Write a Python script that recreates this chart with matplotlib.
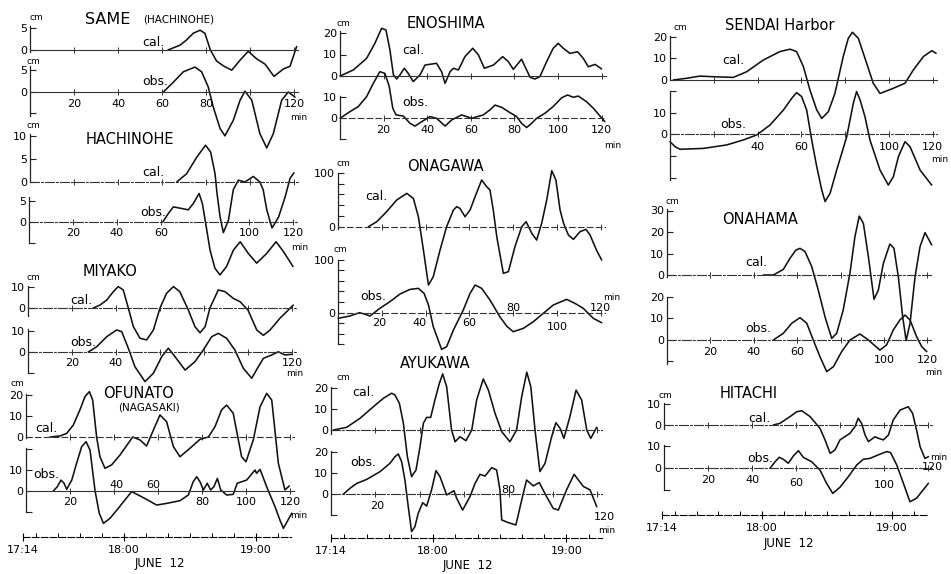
import matplotlib
matplotlib.use('Agg')
import matplotlib.pyplot as plt

plt.rcParams['font.family'] = ['DejaVu Sans']

# ---------------- data (minutes after 17:14, water level in cm) ----------------
same_cal_t = [62.7, 68.2, 71.2, 74.2, 77.3, 79.5, 82.0, 84.8, 87.9, 91.7, 95.5, 99.2, 103.0, 106.8, 110.9, 115.2, 118.2, 121.2]
same_cal_h = [0, 1.1, 2.3, 3.8, 4.5, 3.8, 0, -2.5, -3.6, -4.6, -2.3, -0.3, -2.0, -3.2, -6.0, -4.3, -3.7, 0.8]
same_obs_t = [60.6, 65.2, 69.7, 75.0, 78.0, 81.0, 83.3, 86.4, 88.6, 92.4, 95.5, 97.7, 100.8, 104.5, 107.6, 110.6, 114.4, 117.4, 120.5]
same_obs_h = [0, 2.3, 4.7, 5.8, 4.7, 1.2, -3.5, -8.5, -10.2, -6.6, -1.9, 0.2, -1.9, -9.7, -13.0, -9.7, -1.9, 0, -1.2]

hachi_cal_t = [66.7, 71.2, 75.8, 79.8, 82.1, 84.1, 85.0, 86.4, 87.9, 90.2, 92.4, 94.7, 97.7, 101.5, 104.5, 106.0, 107.6, 110.0, 113.0, 116.0, 118.2, 120.0]
hachi_cal_h = [0, 1.8, 5.4, 8.0, 6.5, 1.8, -2.4, -7.6, -11.0, -8.3, -1.7, 0.4, 0, 1.2, 0, -1.7, -6.0, -10.0, -7.6, -3.2, 0.8, 2.0]
hachi_obs_t = [60.8, 63.3, 65.6, 68.6, 72.4, 74.7, 77.3, 78.8, 80.3, 82.3, 84.5, 86.8, 89.8, 92.9, 96.0, 99.7, 103.5, 108.0, 112.3, 115.6, 120.0]
hachi_obs_h = [0, 2.0, 3.6, 3.3, 2.9, 4.4, 6.8, 4.4, -0.3, -6.7, -11.0, -12.6, -10.6, -6.7, -4.7, -7.5, -9.8, -7.5, -4.7, -7.0, -10.6]

miyako_cal_t = [29.7, 32.7, 35.8, 38.8, 41.0, 43.3, 45.6, 47.9, 50.9, 53.9, 57.0, 60.0, 63.0, 66.1, 69.0, 72.9, 75.9, 78.2, 80.5, 82.7, 86.5, 89.5, 93.3, 96.4, 100.0, 104.0, 107.0, 110.0, 114.5, 120.6]
miyako_cal_h = [0, 1.4, 3.8, 7.8, 10.2, 8.6, 0, -8.9, -14.4, -15.2, -10.5, 0, 7.0, 10.2, 7.8, -1.0, -8.9, -11.8, -8.9, 0, 8.6, 7.8, 4.6, 3.0, -1.0, -10.5, -13.0, -10.5, -4.9, 1.4]
miyako_obs_t = [27.4, 31.2, 35.8, 40.3, 42.6, 45.6, 48.6, 53.2, 57.0, 60.8, 63.8, 66.8, 71.4, 75.9, 79.7, 83.5, 86.5, 90.3, 94.0, 97.9, 101.7, 104.7, 107.0, 110.8, 113.8, 116.8, 119.8]
miyako_obs_h = [0, 2.5, 7.3, 10.5, 9.7, 1.8, -7.0, -14.1, -10.1, -2.2, 1.8, -2.2, -8.6, -4.6, 1.0, 7.3, 8.9, 6.5, 1.0, -7.8, -12.5, -7.0, -3.0, -1.4, 0.1, -1.4, -1.1]

ofunato_cal_t = [10.9, 15.5, 18.5, 21.5, 24.5, 26.8, 28.8, 30.3, 32.1, 33.6, 35.9, 38.9, 42.7, 48.5, 51.8, 54.8, 57.9, 60.9, 63.9, 67.0, 70.0, 74.5, 79.1, 82.9, 85.9, 88.9, 91.2, 94.2, 98.0, 100.0, 103.3, 106.4, 109.4, 111.7, 114.7, 117.7, 119.7]
ofunato_cal_h = [0, 0.5, 1.7, 5.7, 12.9, 19.2, 21.6, 17.6, 0, -9.4, -14.9, -13.3, -8.6, 0, -1.4, -4.3, 3.3, 10.5, 7.3, -4.6, -9.4, -5.4, -1.1, 0, 4.9, 12.9, 15.2, 11.3, -9.4, -11.8, -1.4, 14.4, 20.8, 17.6, -12.5, -25.2, -23.3]
ofunato_obs_t = [12.4, 14.2, 15.9, 17.3, 18.5, 20.8, 23.0, 25.3, 27.3, 29.1, 31.4, 33.3, 35.2, 38.2, 41.9, 48.0, 51.0, 54.8, 59.4, 63.9, 70.0, 73.8, 76.0, 77.6, 79.1, 80.6, 82.4, 83.9, 85.4, 87.0, 88.5, 91.2, 94.2, 96.0, 100.3, 104.1, 104.8, 106.4, 109.4, 113.2, 115.4, 117.0, 120.8]
ofunato_obs_h = [0, 2.0, 5.2, 3.7, 0.8, 5.2, 13.2, 21.1, 23.5, 19.5, 0, -10.6, -15.4, -13.0, -8.3, -0.3, -1.9, -4.0, -6.7, -5.9, -4.6, -1.9, 4.4, 6.8, 4.4, 0.5, 3.7, 0.5, 2.0, 6.0, 0.5, -1.9, -1.6, 3.7, 5.2, 10.0, 8.4, 10.3, 2.0, -7.5, -13.8, -17.8, -10.6]

eno_cal_t = [0, 6.1, 12.2, 16.0, 19.1, 21.1, 22.9, 24.5, 26.0, 27.5, 29.5, 31.3, 33.6, 36.7, 39.0, 44.3, 46.6, 48.2, 50.5, 52.0, 54.3, 57.3, 60.9, 63.5, 66.2, 70.4, 74.6, 77.2, 79.5, 83.3, 84.9, 87.2, 89.4, 91.7, 94.8, 97.8, 100.1, 102.4, 105.5, 109.0, 111.6, 113.9, 117.0, 120.0]
eno_cal_h = [0, 2.8, 8.2, 15.2, 22.2, 21.4, 12.1, 0.5, -1.4, 0.5, 3.6, 1.2, -2.6, 0.5, 5.1, 5.9, 2.0, -3.4, 2.0, 3.6, 2.8, 9.0, 12.9, 9.8, 3.6, 5.1, 9.0, 6.7, 3.1, 7.8, 4.3, -0.6, -1.4, -0.3, 6.7, 12.9, 15.2, 12.9, 10.5, 11.3, 8.2, 4.3, 5.4, 3.3]
eno_obs_t = [0, 4.6, 8.4, 12.2, 15.3, 18.3, 20.6, 22.6, 24.2, 25.7, 29.0, 32.1, 34.4, 37.5, 41.3, 44.3, 48.2, 51.2, 55.8, 60.4, 65.7, 68.8, 71.1, 74.2, 77.2, 81.0, 83.3, 85.6, 87.9, 90.2, 94.0, 97.8, 101.7, 104.4, 107.0, 109.3, 113.1, 116.2, 121.5]
eno_obs_h = [0, 3.2, 5.6, 10.3, 16.7, 22.2, 21.4, 15.1, 4.8, 1.6, 1.1, -2.4, -3.7, -1.6, 0.8, 0, -3.7, -0.8, 1.6, 0, 1.6, 4.0, 6.3, 5.2, 3.2, 0.8, -2.4, -4.4, -2.4, 0, 2.4, 5.6, 9.8, 11.1, 10.0, 10.6, 7.9, 4.8, -1.6]

onag_cal_t = [13.9, 17.7, 22.2, 26.8, 31.4, 34.4, 36.7, 39.0, 41.3, 43.5, 46.6, 49.6, 52.7, 54.2, 55.7, 58.0, 60.3, 62.6, 65.6, 67.9, 69.4, 70.9, 72.5, 75.5, 77.8, 80.8, 83.9, 85.9, 88.5, 90.7, 93.0, 95.3, 97.6, 99.5, 101.4, 103.0, 105.2, 107.5, 110.5, 113.2, 115.1, 118.0, 120.4]
onag_cal_h = [0, 9.3, 27.8, 49.4, 61.7, 52.5, 18.5, -43.2, -108, -92.6, -43.2, 0, 30.9, 37, 34, 18.5, 30.9, 55.6, 86.5, 74, 68, 30.9, -18.5, -86.4, -83.3, -37, 0, 9.3, -12.3, -24.7, 6.2, 49.4, 103.7, 86.5, 30.9, 6.2, -15.4, -23.5, -9.3, -4.9, -15.4, -43.2, -61.7]
onag_obs_t = [0, 5.3, 9.8, 12.1, 14.6, 19.1, 23.7, 28.3, 32.9, 36.7, 39.3, 41.3, 43.5, 47.3, 49.6, 52.7, 57.2, 60.3, 62.6, 65.6, 69.4, 73.9, 77.0, 80.0, 84.6, 89.2, 93.7, 98.3, 104.4, 108.2, 112.0, 116.6, 120.4]
onag_obs_h = [-10.7, -6.3, 0, -2.5, -6.3, 8.2, 20.8, 35.2, 44, 45.9, 36.5, 14.5, -26.4, -69.2, -64.2, -32.7, 5, 36.5, 52.2, 45.9, 23.9, -7.5, -25.2, -35.8, -29.6, -17, -1.3, 14.5, 25.2, 17.6, 8.2, -10.7, -18.9]

ayu_cal_t = [1.1, 7.1, 13.1, 19.1, 23.6, 27.3, 28.8, 30.8, 32.6, 34.4, 36.3, 38.3, 40.1, 41.6, 43.1, 44.9, 46.8, 48.8, 50.3, 52.1, 54.3, 55.9, 58.1, 60.8, 63.4, 65.6, 68.6, 70.9, 73.9, 76.9, 80.6, 83.6, 85.9, 88.2, 90.0, 91.9, 94.1, 96.4, 99.4, 101.3, 103.2, 104.9, 107.6, 110.4, 112.9, 115.2, 117.0, 119.7]
ayu_cal_h = [0, 1.3, 5.6, 11.1, 15.1, 17.5, 16.7, 12.7, 3.2, -12.7, -22.2, -19.0, -7.9, 3.2, 6.0, 6.0, 14.3, 22.2, 26.7, 20.6, 0, -5.6, -3.2, -5.1, 0, 14.3, 24.3, 19.0, 7.9, -0.8, -5.6, 0, 15.9, 27.5, 20.6, 0, -19.8, -15.9, -3.2, 3.5, 0.8, -4.0, 6.3, 19.0, 14.3, 0, -4.0, 1.3]
ayu_obs_t = [5.5, 8.6, 11.6, 16.1, 22.1, 26.6, 28.8, 30.3, 31.8, 33.3, 34.8, 36.3, 37.8, 39.3, 41.3, 43.1, 45.3, 47.3, 49.1, 52.1, 55.4, 56.6, 59.3, 62.6, 64.9, 67.1, 69.4, 72.4, 74.6, 76.1, 76.9, 79.9, 83.3, 85.9, 88.1, 91.1, 93.8, 97.1, 100.1, 102.4, 106.1, 109.5, 113.7, 116.7, 119.7]
ayu_obs_h = [0, 2.9, 5.2, 7.1, 10.8, 14.8, 17.9, 19.2, 15.6, 6.8, -5.9, -17.8, -15.4, -9.0, -4.0, -5.6, 2.1, 11.3, 8.4, -0.3, 1.7, -1.9, -7.5, -1.1, 5.2, 9.5, 8.7, 12.7, 11.6, 2.1, -12.2, -13.5, -14.6, -2.7, 6.8, 4.0, 5.6, -1.1, -6.7, -7.5, 2.1, 9.5, 3.7, 2.1, -5.9]

sendai_cal_t = [1.5, 7.6, 13.7, 19.8, 28.9, 35.0, 42.6, 50.2, 54.8, 57.8, 60.9, 63.9, 67.0, 69.3, 72.3, 75.3, 79.1, 81.4, 83.3, 86.0, 89.8, 92.8, 95.9, 102.0, 107.3, 111.1, 115.7, 119.5, 121.5]
sendai_cal_h = [0, 0.8, 1.8, 1.5, 1.2, 3.8, 9.2, 13.1, 14.2, 13.1, 6.2, -4.6, -13.8, -17.7, -14.6, -6.2, 10.8, 19.2, 22.0, 19.2, 7.7, -1.5, -6.2, -3.8, -1.5, 4.6, 10.8, 13.5, 12.3]
sendai_obs_t = [0, 2.3, 4.6, 15.2, 25.9, 33.5, 39.6, 45.7, 51.8, 55.6, 57.8, 60.1, 62.4, 64.7, 67.0, 69.3, 70.8, 73.1, 76.1, 80.7, 83.7, 85.2, 86.8, 89.0, 91.3, 95.9, 99.7, 102.0, 104.3, 107.3, 109.6, 114.2, 119.5]
sendai_obs_h = [-3.4, -5.7, -6.9, -6.5, -4.9, -2.6, -0.3, 4.3, 11.2, 16.6, 19.2, 17.4, 11.2, -2.6, -14.9, -25.7, -31.0, -27.2, -16.5, -1.1, 14.3, 19.7, 15.8, 8.2, -2.6, -16.5, -23.4, -19.5, -10.3, -3.4, -5.7, -16.5, -23.4]

onah_cal_t = [44.4, 49.0, 53.6, 56.7, 59.4, 61.3, 63.6, 66.7, 69.7, 72.8, 75.9, 78.2, 81.2, 84.3, 86.6, 88.6, 90.5, 92.8, 95.4, 97.4, 99.7, 102.7, 104.6, 106.6, 108.6, 110.2, 112.0, 114.3, 116.6, 118.9, 122.0]
onah_cal_h = [0, 0, 2.6, 7.8, 11.6, 12.4, 10.9, 3.9, -7.0, -19.4, -29.5, -27.1, -16.3, 0.8, 17.8, 27.4, 24.0, 8.5, -11.3, -7.0, 5.4, 14.4, 12.4, -0.8, -19.4, -30.5, -22.5, -0.8, 13.2, 19.7, 14.0]
onah_obs_t = [49.0, 53.6, 57.5, 61.3, 64.4, 67.4, 70.5, 73.6, 76.7, 80.5, 84.3, 88.9, 92.8, 98.1, 101.2, 104.3, 107.3, 109.7, 112.0, 115.0, 117.4, 119.7]
onah_obs_h = [0, 3.1, 7.8, 10.4, 7.8, 0, -7.8, -14.7, -12.4, -5.4, 0, 2.8, 0, -4.7, -2.3, 4.7, 9.3, 11.6, 9.3, 1.6, -3.1, -5.4]

hit_cal_t = [49.7, 52.7, 57.3, 60.3, 62.6, 66.4, 70.9, 73.2, 75.5, 77.7, 80.0, 84.5, 86.8, 88.3, 89.8, 91.4, 92.9, 95.9, 97.4, 99.7, 102.0, 104.2, 107.3, 111.0, 113.0, 114.8, 116.4, 118.6, 120.2]
hit_cal_h = [0, 0.8, 4.0, 6.3, 6.8, 4.0, -1.6, -7.1, -13.5, -11.9, -7.1, -4.0, -0.8, 3.2, 0.8, -4.8, -7.9, -5.6, -6.3, -7.1, -4.8, 2.4, 7.1, 8.7, 5.6, -2.4, -10.3, -15.9, -15.1]
hit_obs_t = [48.2, 50.5, 52.4, 54.2, 56.5, 58.8, 61.1, 63.3, 67.1, 70.9, 73.9, 76.7, 80.0, 83.8, 87.6, 90.6, 93.6, 97.4, 101.2, 103.0, 105.8, 108.8, 111.8, 114.8, 120.2]
hit_obs_h = [0, 3.0, 5.0, 4.1, 2.3, 5.6, 8.0, 5.0, 3.0, -0.8, -6.8, -11.4, -8.6, -3.8, 1.5, 4.1, 4.5, 6.1, 7.6, 7.1, 1.5, -6.8, -15.2, -13.6, -6.8]

time_major = [0, 46, 106]
time_labels = ['17:14', '18:00', '19:00']
time_minor = [6, 16, 26, 36, 56, 66, 76, 86, 96, 116]

# ---------------- layout helpers ----------------
W, H = 951, 574
fig = plt.figure(figsize=(W / 100, H / 100), dpi=100)
fig.patch.set_facecolor('white')

SOLID = '-'
DD = (0, (8, 2, 1.5, 2))
DASH = (0, (5, 3))
XMAX = 125


def fx(x):
    return x / W


def fy(y):
    return 1 - y / H


def trace(t, h, x0, y0, sx, sy, yticks, ylabels, ybounds, zls,
          xlabels=(), minlab=None):
    lo = min(ybounds[0], min(h)) - 2
    hi = max(ybounds[1], max(h)) + 2
    rect = [fx(x0), fy(y0 - lo * sy), XMAX * sx / W, (hi - lo) * sy / H]
    ax = fig.add_axes(rect)
    ax.patch.set_alpha(0)
    ax.set_xlim(0, XMAX)
    ax.set_ylim(lo, hi)
    ax.plot(t, h, color='#111111', lw=1.15, clip_on=False,
            solid_joinstyle='round', solid_capstyle='round')
    for s in ('top', 'right'):
        ax.spines[s].set_visible(False)
    ax.spines['left'].set_bounds(*ybounds)
    ax.spines['left'].set_linewidth(0.9)
    ax.spines['left'].set_color('#222222')
    b = ax.spines['bottom']
    b.set_position(('data', 0))
    b.set_bounds(0, 122)
    b.set_linestyle(zls)
    b.set_linewidth(0.8)
    b.set_color('#333333')
    ax.set_yticks(yticks)
    ax.set_yticklabels(ylabels)
    ax.set_xticks([20, 40, 60, 80, 100, 120])
    ax.tick_params(axis='x', direction='inout', length=4, width=0.7,
                   color='#333333', labelbottom=False)
    ax.tick_params(axis='y', direction='in', length=4, width=0.8,
                   pad=2, labelsize=8, color='#222222')
    for m, lab, dy in xlabels:
        ax.annotate(lab, xy=(m, 0), xytext=(0, -dy * 0.72),
                    textcoords='offset points', ha='center', va='center',
                    fontsize=8, annotation_clip=False)
    if minlab is not None:
        m, dy = minlab
        ax.annotate('min', xy=(m, 0), xytext=(0, -dy * 0.72),
                    textcoords='offset points', ha='center', va='center',
                    fontsize=6.5, annotation_clip=False)
    return ax


def time_axis(x0, y, sx, end=122):
    ax = fig.add_axes([fx(x0), fy(y), XMAX * sx / W, 0.0005])
    ax.patch.set_alpha(0)
    ax.set_xlim(0, XMAX)
    ax.set_yticks([])
    for s in ('top', 'right', 'left'):
        ax.spines[s].set_visible(False)
    b = ax.spines['bottom']
    b.set_bounds(0, end)
    b.set_linestyle((0, (6, 2)))
    b.set_linewidth(0.8)
    ax.set_xticks(time_major)
    ax.set_xticklabels(time_labels)
    ax.set_xticks(time_minor, minor=True)
    ax.tick_params(axis='x', which='major', direction='inout', length=6,
                   width=0.8, labelsize=8, pad=3)
    ax.tick_params(axis='x', which='minor', direction='in', length=3, width=0.7)
    return ax


def label(txt, x, y, size=9, ha='left'):
    fig.text(fx(x), fy(y), txt, ha=ha, va='center', fontsize=size)


# ---------------- column 1 ----------------
trace(same_cal_t, same_cal_h, 30, 50, 2.2, 4.4, [0, 5], ['0', '5'], (-0.5, 5.5), SOLID)
trace(same_obs_t, same_obs_h, 30, 92, 2.2, 4.3, [-5, 0, 5], ['', '0', '5'], (-5.5, 6), SOLID,
      [(20, '20', 12), (40, '40', 12), (60, '60', 12), (80, '80', 12), (120, '120', 12)], (122, 26))
trace(hachi_cal_t, hachi_cal_h, 30, 182, 2.2, 4.6, [0, 5, 10], ['0', '5', '10'], (0, 10.5), DD)
trace(hachi_obs_t, hachi_obs_h, 29, 222, 2.2, 4.2, [-5, 0, 5], ['', '0', '5'], (-5, 6), DD,
      [(20, '20', 11), (40, '40', 11), (60, '60', 11), (100, '100', 11), (120, '120', 11)], (123, 25))
trace(miyako_cal_t, miyako_cal_h, 28, 308, 2.2, 2.1, [0, 10], ['0', '10'], (-4, 10.5), DD)
trace(miyako_obs_t, miyako_obs_h, 28, 352, 2.2, 2.1, [-10, 0, 10], ['', '0', '10'], (-10, 11), DD,
      [(20, '20', 11), (40, '40', 11), (120, '120', 11)], (121, 21))
trace(ofunato_cal_t, ofunato_cal_h, 26, 437, 2.2, 2.1, [0, 10, 20], ['0', '10', '20'], (-0.5, 20.5), DASH)
trace(ofunato_obs_t, ofunato_obs_h, 26, 491, 2.2, 2.1, [-10, 0, 10, 20], ['', '0', '10', ''], (-10, 20.5), SOLID,
      [(20, '20', 11), (41, '40', -6), (58, '60', -6), (80, '80', 11), (100, '100', 11), (120, '120', 11)], (124, 24))
time_axis(23, 537, 2.2)

# ---------------- column 2 ----------------
trace(eno_cal_t, eno_cal_h, 340, 76, 2.18, 2.15, [0, 10, 20], ['0', '10', '20'], (0, 21), SOLID)
trace(eno_obs_t, eno_obs_h, 340, 118.3, 2.18, 2.1, [-10, 0, 10], ['', '0', '10'], (-10, 10.5), DASH,
      [(20, '20', 12), (40, '40', 12), (60, '60', 12), (80, '80', 12), (100, '100', 12), (120, '120', 12)], (125, 27))
trace(onag_cal_t, onag_cal_h, 338, 226.7, 2.19, 0.54, [0, 20, 40, 60, 80, 100],
      ['0', '', '', '', '', '100'], (-5, 100), DASH)
trace(onag_obs_t, onag_obs_h, 338, 312.7, 2.19, 0.53, [-60, -40, -20, 0, 20, 40, 60, 80, 100],
      ['', '', '', '0', '', '', '', '', '100'], (-60, 100), DASH,
      [(19, '20', 10), (37, '40', 10), (60, '60', 10), (80, '80', -5), (100, '100', 14), (120, '120', -5)], (125, -15))
trace(ayu_cal_t, ayu_cal_h, 331, 430, 2.22, 2.1, [0, 10, 20], ['0', '10', '20'], (-2, 20.5), DD)
trace(ayu_obs_t, ayu_obs_h, 331, 494.3, 2.22, 2.1, [-10, 0, 10, 20], ['', '0', '10', '20'], (-10, 20.5), DD,
      [(21, '20', 12), (80, '80', -4), (123, '120', 23)], (124, 36))
time_axis(331, 538, 2.22)

# ---------------- column 3 ----------------
trace(sendai_cal_t, sendai_cal_h, 670, 80, 2.19, 2.17, [0, 10, 20], ['0', '10', '20'], (0, 20.5), SOLID)
trace(sendai_obs_t, sendai_obs_h, 670, 134.3, 2.19, 2.17, [-20, -10, 0, 10, 20],
      ['', '', '0', '10', ''], (-21, 20), DD,
      [(40, '40', 13), (60, '60', 13), (100, '100', 13), (120, '120', 13)], (123, 25))
trace(onah_cal_t, onah_cal_h, 667, 275, 2.17, 2.15, [0, 10, 20, 30], ['0', '10', '20', '30'], (-1, 30.5), DD)
trace(onah_obs_t, onah_obs_h, 667, 340, 2.17, 2.15, [-10, 0, 10, 20], ['', '0', '10', '20'], (-11, 20), DD,
      [(20, '20', 12), (40, '40', 12), (60, '60', 12), (100, '100', 20), (120, '120', 20)], (123, 33))
trace(hit_cal_t, hit_cal_h, 664, 425, 2.2, 2.1, [0, 10], ['0', '10'], (-2, 10.5), DD)
trace(hit_obs_t, hit_obs_h, 664, 468.3, 2.2, 2.2, [-10, 0, 10], ['', '0', '10'], (-10, 10.5), DD,
      [(20, '20', 12), (40, '40', 12), (60, '60', 15), (100, '100', 17), (122, '120', -1)], (125, -11))
time_axis(662, 515, 2.17)

# ---------------- texts ----------------
titles = [("SAME", 85, 19, 11.5), ("(HACHINOHE)", 143, 20, 7.5), ("HACHINOHE", 86, 140, 10.5),
          ("MIYAKO", 83, 272, 10.5), ("OFUNATO", 103, 393, 10.5), ("(NAGASAKI)", 118, 408, 7.5),
          ("ENOSHIMA", 407, 23, 10.5), ("ONAGAWA", 407, 167, 10.5), ("AYUKAWA", 400, 363, 10.5),
          ("SENDAI Harbor", 725, 25, 10.5), ("ONAHAMA", 722, 219, 10.5), ("HITACHI", 720, 393, 10.5)]
for txt, x, y, s in titles:
    label(txt, x, y, s)

calobs = [("cal.", 142, 42), ("obs.", 142, 82), ("cal.", 142, 172), ("obs.", 140, 213),
          ("cal.", 70, 300), ("obs.", 70, 342), ("cal.", 35, 428), ("obs.", 33, 475),
          ("cal.", 402, 50), ("obs.", 402, 103), ("cal.", 365, 197), ("obs.", 360, 297),
          ("cal.", 352, 393), ("obs.", 350, 462), ("cal.", 722, 60), ("obs.", 720, 125),
          ("cal.", 745, 262), ("obs.", 745, 328), ("cal.", 748, 419), ("obs.", 747, 459)]
for txt, x, y in calobs:
    label(txt, x, y, 9)

cms = [(36, 18), (33, 62), (33, 126), (33, 278), (17, 384), (343, 23), (343, 163),
       (340, 250), (343, 378), (680, 28), (672, 202), (665, 396)]
for x, y in cms:
    label('cm', x, y, 6.5, ha='center')

for x, y in [(160, 564), (468, 565), (789, 543)]:
    label('JUNE  12', x, y, 8.5, ha='center')

fig.savefig('out.png', dpi=100, facecolor='white')
